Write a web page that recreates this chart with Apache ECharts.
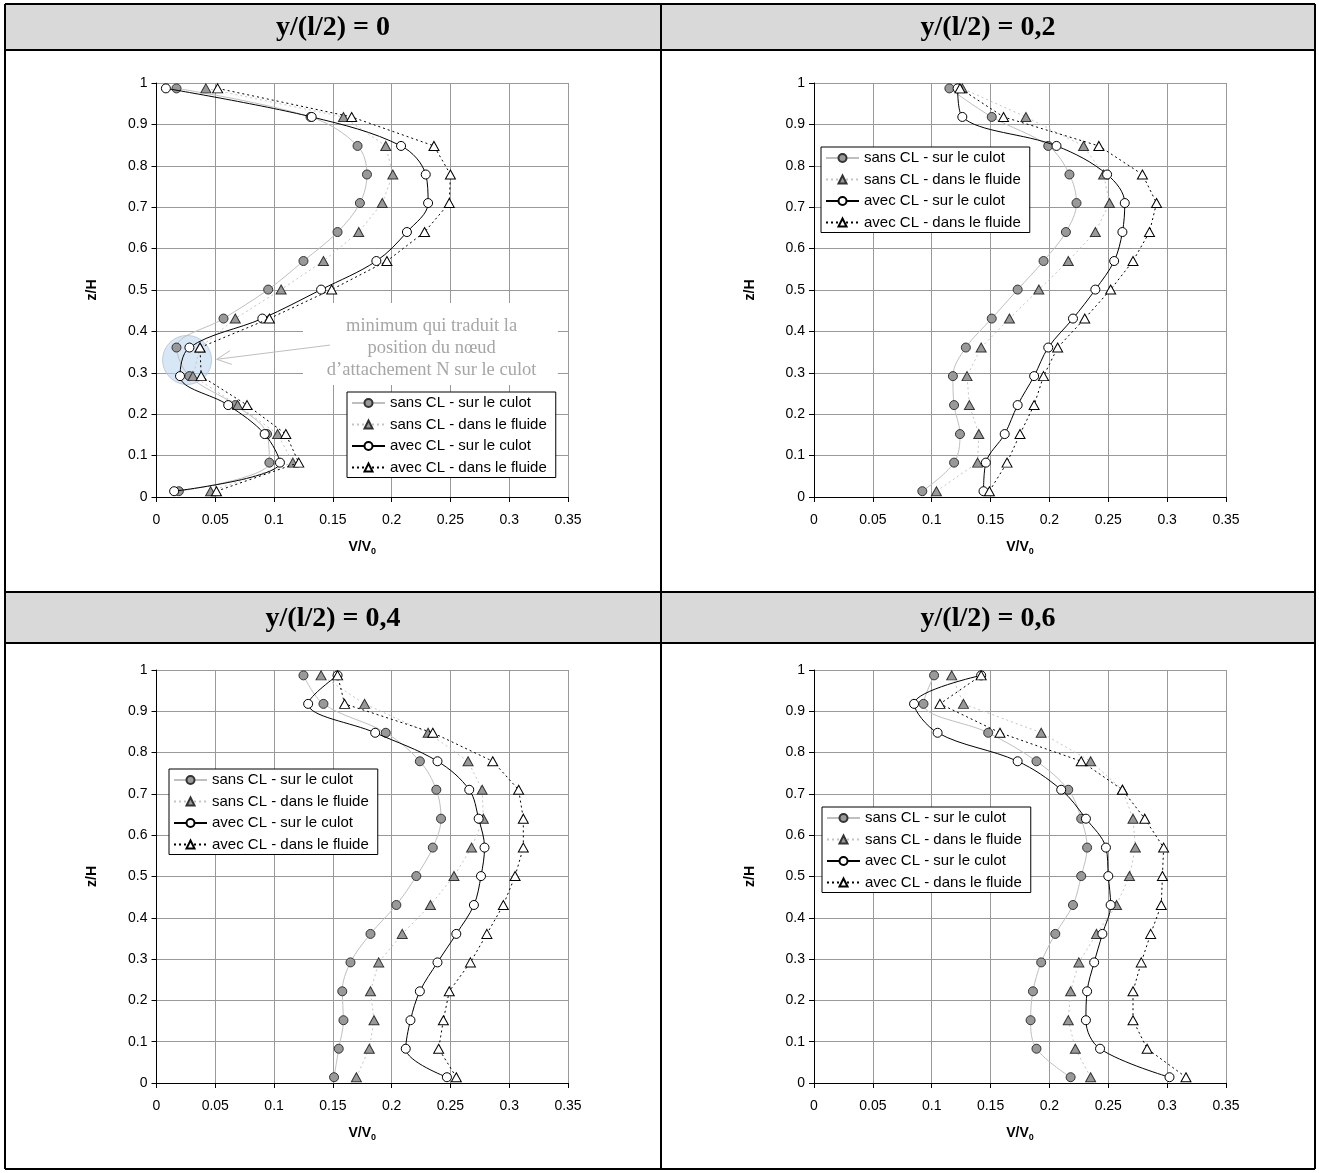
<!DOCTYPE html>
<html><head><meta charset="utf-8">
<script src="https://cdn.jsdelivr.net/npm/echarts@6/dist/echarts.min.js"></script>
<style>html,body{margin:0;padding:0;background:#fff}#c{width:1319px;height:1173px}</style>
</head><body><div id="c"></div>
<script>
// ---------- DATA ----------
const zLevels = [0.014, 0.083, 0.152, 0.222, 0.292, 0.361, 0.431, 0.501, 0.570, 0.640, 0.710, 0.779, 0.848, 0.918, 0.987];
const seriesNames = ['sans CL - sur le culot', 'sans CL - dans le fluide', 'avec CL - sur le culot', 'avec CL - dans le fluide'];
const panelTitles = ['y/(l/2) = 0', 'y/(l/2) = 0,2', 'y/(l/2) = 0,4', 'y/(l/2) = 0,6'];
const xAxisTitle = 'V/V';
const xAxisTitleSub = '0';
const yAxisTitle = 'z/H';

// panel y/(l/2) = 0
const p0SansCulot  = [0.019, 0.096, 0.094, 0.067, 0.028, 0.017, 0.057, 0.095, 0.125, 0.154, 0.173, 0.179, 0.171, 0.131, 0.017];
const p0SansFluide = [0.046, 0.116, 0.103, 0.069, 0.031, 0.037, 0.067, 0.106, 0.142, 0.172, 0.192, 0.201, 0.195, 0.159, 0.042];
const p0AvecCulot  = [0.015, 0.105, 0.092, 0.061, 0.020, 0.028, 0.090, 0.140, 0.187, 0.213, 0.231, 0.229, 0.208, 0.132, 0.008];
const p0AvecFluide = [0.051, 0.121, 0.110, 0.077, 0.038, 0.037, 0.096, 0.149, 0.196, 0.228, 0.249, 0.250, 0.236, 0.166, 0.052];
// panel y/(l/2) = 0,2
const p1SansCulot  = [0.092, 0.119, 0.124, 0.119, 0.118, 0.129, 0.151, 0.173, 0.195, 0.214, 0.223, 0.217, 0.199, 0.151, 0.115];
const p1SansFluide = [0.104, 0.139, 0.140, 0.132, 0.130, 0.142, 0.166, 0.191, 0.216, 0.239, 0.251, 0.246, 0.229, 0.180, 0.126];
const p1AvecCulot  = [0.144, 0.146, 0.162, 0.173, 0.187, 0.199, 0.220, 0.239, 0.255, 0.262, 0.264, 0.249, 0.206, 0.126, 0.122];
const p1AvecFluide = [0.149, 0.164, 0.175, 0.187, 0.195, 0.207, 0.230, 0.252, 0.271, 0.285, 0.291, 0.279, 0.242, 0.161, 0.124];
// panel y/(l/2) = 0,4
const p2SansCulot  = [0.151, 0.155, 0.159, 0.158, 0.165, 0.182, 0.204, 0.221, 0.235, 0.242, 0.238, 0.224, 0.195, 0.142, 0.125];
const p2SansFluide = [0.170, 0.181, 0.185, 0.182, 0.189, 0.209, 0.233, 0.253, 0.268, 0.278, 0.277, 0.265, 0.231, 0.177, 0.140];
const p2AvecCulot  = [0.247, 0.212, 0.216, 0.224, 0.239, 0.255, 0.270, 0.276, 0.279, 0.274, 0.266, 0.239, 0.186, 0.129, 0.154];
const p2AvecFluide = [0.255, 0.240, 0.244, 0.249, 0.267, 0.281, 0.295, 0.305, 0.312, 0.312, 0.308, 0.286, 0.235, 0.160, 0.154];
// panel y/(l/2) = 0,6
const p3SansCulot  = [0.218, 0.189, 0.184, 0.186, 0.193, 0.205, 0.220, 0.227, 0.232, 0.227, 0.216, 0.189, 0.148, 0.093, 0.102];
const p3SansFluide = [0.235, 0.222, 0.216, 0.218, 0.225, 0.240, 0.257, 0.268, 0.273, 0.271, 0.262, 0.235, 0.193, 0.127, 0.117];
const p3AvecCulot  = [0.302, 0.243, 0.231, 0.232, 0.238, 0.245, 0.252, 0.250, 0.248, 0.231, 0.210, 0.173, 0.105, 0.085, 0.142];
const p3AvecFluide = [0.316, 0.283, 0.271, 0.271, 0.278, 0.286, 0.295, 0.296, 0.297, 0.281, 0.262, 0.227, 0.158, 0.107, 0.142];

// annotation (panel 0), in data units
const annotText = ['minimum qui traduit la', 'position du n\u0153ud', 'd\u2019attachement N sur le culot'];
const annotCircle = [0.026, 0.331];
const annotTextCenter = [0.234, 0.3606];
const annotBox = [[0.1246, 0.4686], [0.3414, 0.2705]];
const annotArrow = [[0.1476, 0.367], [0.0512, 0.3326]];

// ---------- LAYOUT / STYLE ----------
const panels = [
  [p0SansCulot, p0SansFluide, p0AvecCulot, p0AvecFluide],
  [p1SansCulot, p1SansFluide, p1AvecCulot, p1AvecFluide],
  [p2SansCulot, p2SansFluide, p2AvecCulot, p2AvecFluide],
  [p3SansCulot, p3SansFluide, p3AvecCulot, p3AvecFluide]
];
const FONT = 'Liberation Sans';
const SERIF = 'Liberation Serif';
const grids = [
  {left: 156.5, top: 83, width: 411.5, height: 414},
  {left: 814, top: 83, width: 412, height: 414},
  {left: 156.5, top: 670, width: 411.5, height: 413},
  {left: 814, top: 670, width: 412, height: 413}
];
const legendPos = [[347, 392], [821, 147], [169, 769], [822, 807]];

const styles = [
  {symbol: 'circle', fill: '#999999', border: '#333333', line: '#BFBFBF', type: 'solid', smooth: 0.35},
  {symbol: 'triangle', fill: '#999999', border: '#333333', line: '#C4C4C4', type: [2, 3], smooth: false},
  {symbol: 'circle', fill: '#FFFFFF', border: '#000000', line: '#000000', type: 'solid', smooth: 0.35},
  {symbol: 'triangle', fill: '#FFFFFF', border: '#000000', line: '#000000', type: [2, 3], smooth: false}
];

const series = [];
series.push({
  type: 'scatter', name: 'annot', xAxisIndex: 0, yAxisIndex: 0, silent: true, z: 1,
  symbol: 'circle', symbolSize: 49,
  itemStyle: {color: 'rgba(185,212,238,0.7)', borderColor: '#AFC3D8', borderWidth: 1},
  data: [annotCircle]
});
panels.forEach((vals, p) => {
  vals.forEach((arr, s) => {
    const st = styles[s];
    series.push({
      type: 'line', name: seriesNames[s], xAxisIndex: p, yAxisIndex: p,
      smooth: st.smooth, symbol: st.symbol, symbolSize: st.symbol === 'circle' ? 9 : [10, 9],
      showAllSymbol: true, z: 3 + s,
      lineStyle: {color: st.line, width: 1, type: st.type},
      itemStyle: {color: st.fill, borderColor: st.border, borderWidth: 1},
      emphasis: {disabled: true},
      data: zLevels.map((z, i) => [arr[i], z])
    });
  });
});

const xAxes = grids.map((g, i) => ({
  gridIndex: i, type: 'value', min: 0, max: 0.35, interval: 0.05,
  name: '{a|' + xAxisTitle + '}{b|' + xAxisTitleSub + '}', nameLocation: 'middle', nameGap: 41,
  nameTextStyle: {rich: {
    a: {fontFamily: FONT, fontWeight: 'bold', fontSize: 14, color: '#000', lineHeight: 18},
    b: {fontFamily: FONT, fontWeight: 'bold', fontSize: 9, color: '#000', lineHeight: 10, verticalAlign: 'bottom'}
  }},
  axisLine: {show: true, onZero: false, lineStyle: {color: '#000', width: 1}},
  axisTick: {show: true, length: 5, inside: false, lineStyle: {color: '#000', width: 1}},
  axisLabel: {margin: 16, fontFamily: FONT, fontSize: 14, color: '#000',
    formatter: v => String(+v.toFixed(2))},
  splitLine: {show: true, lineStyle: {color: '#999999', width: 1}}
}));
const yAxes = grids.map((g, i) => ({
  gridIndex: i, type: 'value', min: 0, max: 1, interval: 0.1,
  name: yAxisTitle, nameLocation: 'middle', nameGap: 57,
  nameTextStyle: {fontFamily: FONT, fontWeight: 'bold', fontSize: 14, color: '#000'},
  axisLine: {show: true, onZero: false, lineStyle: {color: '#000', width: 1}},
  axisTick: {show: true, length: 5, inside: false, lineStyle: {color: '#000', width: 1}},
  axisLabel: {margin: 9, fontFamily: FONT, fontSize: 14, color: '#000',
    formatter: v => String(+v.toFixed(2))},
  splitLine: {show: true, lineStyle: {color: '#999999', width: 1}}
}));
const legends = legendPos.map(([l, t]) => ({
  left: l, top: t, orient: 'vertical', selectedMode: false,
  data: seriesNames, itemWidth: 33, itemHeight: 10, itemGap: 5.5,
  padding: [3, 9, 2, 4],
  backgroundColor: '#fff', borderColor: '#000', borderWidth: 1, borderRadius: 0,
  textStyle: {fontFamily: FONT, fontSize: 15, color: '#000', lineHeight: 16}
}));

const chart = echarts.init(document.getElementById('c'), null, {renderer: 'canvas'});
chart.setOption({
  animation: false,
  backgroundColor: '#fff',
  grid: grids.map(g => Object.assign({}, g, {show: false})),
  xAxis: xAxes, yAxis: yAxes, legend: legends, series: series
});

// ---------- table + annotation graphics ----------
const TL = 5, TR = 1315, TT = 4, TB = 1169, MID = 661, H1B = 50, H2T = 592, H2B = 643;
const g = [];
g.push({type: 'rect', shape: {x: TL, y: TT, width: TR - TL, height: H1B - TT}, style: {fill: '#D9D9D9'}, z: 0, silent: true});
g.push({type: 'rect', shape: {x: TL, y: H2T, width: TR - TL, height: H2B - H2T}, style: {fill: '#D9D9D9'}, z: 0, silent: true});
const lines = [[TL, TT, TR, TT], [TL, TB, TR, TB], [TL, TT, TL, TB], [TR, TT, TR, TB], [MID, TT, MID, TB],
  [TL, H1B, TR, H1B], [TL, H2T, TR, H2T], [TL, H2B, TR, H2B]];
lines.forEach(l => g.push({type: 'line', shape: {x1: l[0], y1: l[1], x2: l[2], y2: l[3]}, style: {stroke: '#000', lineWidth: 2}, z: 10, silent: true}));
const titleCenters = [[(TL + MID) / 2, (TT + H1B) / 2 + 1], [(MID + TR) / 2, (TT + H1B) / 2 + 1], [(TL + MID) / 2, (H2T + H2B) / 2 + 1], [(MID + TR) / 2, (H2T + H2B) / 2 + 1]];
panelTitles.forEach((t, i) => g.push({type: 'text', x: titleCenters[i][0], y: titleCenters[i][1], z: 11, silent: true,
  style: {text: t, fill: '#000', font: 'bold 28px "' + SERIF + '"', align: 'center', verticalAlign: 'middle'}}));

const px = p => chart.convertToPixel({gridIndex: 0}, p);
const b0 = px(annotBox[0]), b1 = px(annotBox[1]);
g.push({type: 'rect', shape: {x: b0[0], y: b0[1], width: b1[0] - b0[0], height: b1[1] - b0[1]}, style: {fill: '#fff'}, z: 1, silent: true});
const tc = px(annotTextCenter);
g.push({type: 'text', x: tc[0], y: tc[1], z: 12, silent: true,
  style: {text: annotText.join('\n'), fill: '#A6A6A6', font: '18.5px "' + SERIF + '"', lineHeight: 22, align: 'center', verticalAlign: 'middle'}});
const a0 = px(annotArrow[0]), a1 = px(annotArrow[1]);
const ang = Math.atan2(a0[1] - a1[1], a0[0] - a1[0]);
const hl = 16, ha = 0.45;
g.push({type: 'polyline', z: 12, silent: true, shape: {points: [a0, a1]}, style: {stroke: '#BFBFBF', lineWidth: 1, fill: null}});
g.push({type: 'polyline', z: 12, silent: true, shape: {points: [
  [a1[0] + hl * Math.cos(ang + ha), a1[1] + hl * Math.sin(ang + ha)], a1,
  [a1[0] + hl * Math.cos(ang - ha), a1[1] + hl * Math.sin(ang - ha)]]}, style: {stroke: '#BFBFBF', lineWidth: 1, fill: null}});
chart.setOption({graphic: g});
</script></body></html>
